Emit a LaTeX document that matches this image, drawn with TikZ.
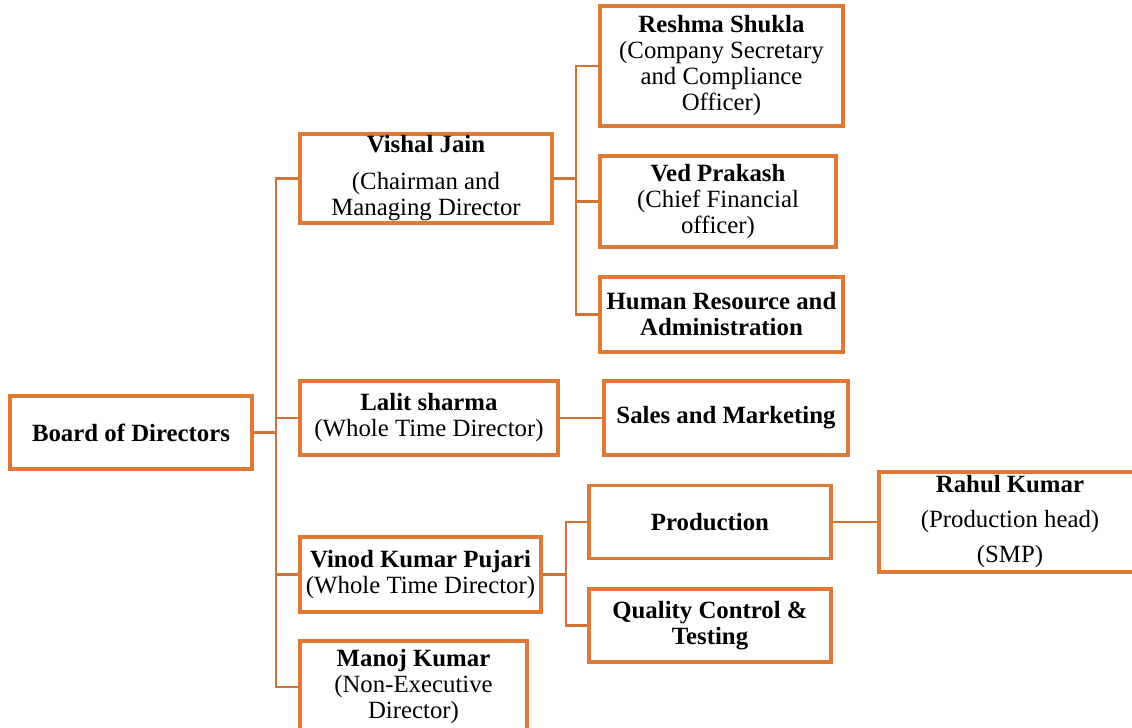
\documentclass[tikz,border=0pt]{standalone}
\usepackage{xcolor}
\usepackage{fontspec}
\setmainfont{Liberation Serif}
\usepackage{tikz}
\usetikzlibrary{calc}

\definecolor{boxorange}{RGB}{222,122,52}
\definecolor{lineorange}{RGB}{206,116,56}

\begin{document}
\begin{tikzpicture}[x=0.5pt,y=-0.5pt,
    post/.style={draw=boxorange,line width=1.6pt,fill=white,inner sep=0pt,align=center,
      font=\fontsize{12.4}{13}\selectfont},
    link/.style={draw=lineorange,line width=1.1pt}]
                \useasboundingbox (0,0) rectangle (1132,728);
                \coordinate (trunk) at (276,0);
                \coordinate (vsplit) at (576,0);
                \coordinate (psplit) at (566,0);
                \node [post,minimum width=121pt,minimum height=36.5pt] (board) at (131,432.5) {\textbf{Board of Directors}};
                \node [post,minimum width=126pt,minimum height=44.5pt] (vishal) at (426,178.5) {\textbf{Vishal Jain}\\[5.5pt](Chairman and\\Managing Director};
                \node [post,minimum width=129pt,minimum height=37pt] (lalit) at (429,418) {\textbf{Lalit sharma}\\(Whole Time Director)};
                \node [post,minimum width=120.5pt,minimum height=37.5pt] (vinod) at (420.5,574.5) {\textbf{Vinod Kumar Pujari}\\(Whole Time Director)};
                \node [post,minimum width=113.5pt,minimum height=46pt] (manoj) at (413.5,687) {\textbf{Manoj Kumar}\\(Non-Executive\\Director)};
                \node [post,minimum width=121.5pt,minimum height=60pt] (reshma) at (721.5,66) {\textbf{Reshma Shukla}\\(Company Secretary\\and Compliance\\Officer)};
                \node [post,minimum width=118pt,minimum height=45.5pt] (ved) at (718,201.5) {\textbf{Ved Prakash}\\(Chief Financial\\officer)};
                \node [post,minimum width=121.5pt,minimum height=37.5pt] (hr) at (721.5,314.5) {\textbf{Human Resource and}\\\textbf{Administration}};
                \node [post,minimum width=122pt,minimum height=37pt] (sales) at (726,418) {\textbf{Sales and Marketing}};
                \node [post,minimum width=121pt,minimum height=36.5pt] (production) at (710,522) {\textbf{Production}};
                \node [post,minimum width=121pt,minimum height=36.5pt] (quality) at (710,625.5) {\textbf{Quality Control \&}\\\textbf{Testing}};
                \node [post,minimum width=131pt,minimum height=50pt] (rahul) at (1010,522) {\textbf{Rahul Kumar}\\[4.5pt](Production head)\\[4.5pt](SMP)};
                \foreach \n in {vishal,lalit,vinod,manoj}
                    \draw [link] (board.east) -- (board.east -| trunk) |- (\n.west);
                \foreach \n in {reshma,ved,hr}
                    \draw [link] (vishal.east) -- (vishal.east -| vsplit) |- (\n.west);
                \foreach \n in {production,quality}
                    \draw [link] (vinod.east) -- (vinod.east -| psplit) |- (\n.west);
                \draw [link] (lalit.east) -- (sales.west);
                \draw [link] (production.east) -- (rahul.west);
            \end{tikzpicture}
\end{document}
